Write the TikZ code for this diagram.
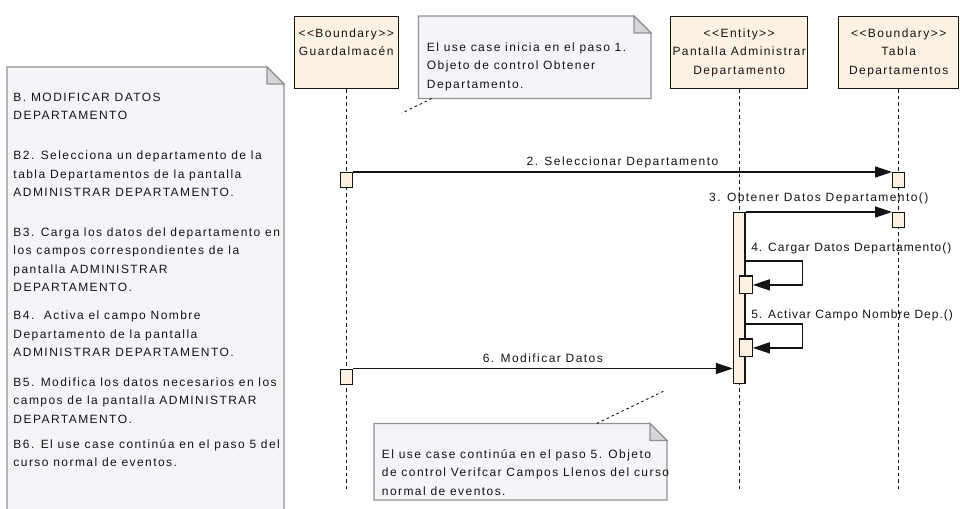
\documentclass[tikz,border=0pt]{standalone}
\usepackage{fontspec}
\setmainfont{Liberation Sans}[LetterSpace=12]
\newfontfamily\tightfont{Liberation Sans}[LetterSpace=8.5]
\usetikzlibrary{arrows.meta}

\definecolor{ink}{RGB}{20,20,20}
\definecolor{boxfill}{RGB}{252,241,226}
\definecolor{notefill}{RGB}{246,244,248}
\definecolor{notedraw}{RGB}{145,145,145}
\definecolor{foldfill}{RGB}{214,214,214}

\begin{document}
\begin{tikzpicture}[x=1bp,y=-1bp,
  every node/.style={font=\fontsize{12bp}{18.4bp}\selectfont, text=ink},
  notebody/.style={fill=notefill, draw=notedraw, line width=1.2bp},
  notefold/.style={fill=foldfill, draw=notedraw, line width=1.2bp},
  headbox/.style={draw=ink, line width=1.4bp, fill=boxfill, inner sep=0pt, anchor=north west, minimum height=72bp},
  actbox/.style={draw=ink, line width=1.3bp, fill=boxfill, inner sep=0pt},
  lifeline/.style={draw=ink, line width=1.2bp, dash pattern=on 3.5bp off 3bp},
  msg/.style={draw=ink, line width=1.4bp, -{Triangle[length=17bp,width=11bp]}},
  attach/.style={draw=ink, line width=0.9bp, dash pattern=on 2.5bp off 3bp},
  txt/.style={inner sep=0pt, anchor=north west, align=left, execute at begin node=\strut},
  ctxt/.style={inner sep=0pt, anchor=north, align=center, execute at begin node=\strut},
  lbl/.style={inner sep=0pt, anchor=base},
  lblw/.style={inner sep=0pt, anchor=base west, font=\tightfont\fontsize{12bp}{18.4bp}\selectfont},
]
\useasboundingbox (0,0) rectangle (960,509);
\fill[white] (0,0) rectangle (960,509);

% ---- left note: alternative flow B (runs off the bottom edge)
\fill[notefill] (7,67) -- (267,67) -- (284,84) -- (284,515) -- (7,515) -- cycle;
\draw[notedraw, line width=1.2bp] (7,515) -- (7,67) -- (267,67) -- (284,84) -- (284,515);
\draw[notefold] (267,67) -- (267,84) -- (284,84) -- cycle;
\node[txt] (pB)  at (13.3,92.6)  {B. MODIFICAR DATOS\\DEPARTAMENTO};
\node[txt] (pB2) at (13.3,150.9) {B2. Selecciona un departamento de la\\tabla Departamentos de la pantalla\\ADMINISTRAR DEPARTAMENTO.};
\node[txt] (pB3) at (13.3,227.6) {B3. Carga los datos del departamento en\\los campos correspondientes de la\\pantalla ADMINISTRAR\\DEPARTAMENTO.};
\node[txt] (pB4) at (13.3,310.9) {B4.\ \ Activa el campo Nombre\\Departamento de la pantalla\\ADMINISTRAR DEPARTAMENTO.};
\node[txt] (pB5) at (13.3,377.6) {B5. Modifica los datos necesarios en los\\campos de la pantalla ADMINISTRAR\\DEPARTAMENTO.};
\node[txt] (pB6) at (13.3,439.2) {B6. El use case contin\'ua en el paso 5 del\\curso normal de eventos.};

% ---- top note
\draw[notebody] (418.5,16) -- (634,16) -- (651,33) -- (651,98.5) -- (418.5,98.5) -- cycle;
\draw[notefold] (634,16) -- (634,33) -- (651,33) -- cycle;
\node[txt] (ntop) at (426.7,42.6) {El use case inicia en el paso 1.\\Objeto de control Obtener\\Departamento.};
\coordinate (ntopA) at (431.7,98.5);
\coordinate (ntopB) at (401.7,113.3);
\draw[attach] (ntopA) -- (ntopB);

% ---- lifeline heads
\node[headbox, minimum width=104bp] (g) at (293.5,16) {};
\node[headbox, minimum width=137bp] (e) at (670,16) {};
\node[headbox, minimum width=120bp] (t) at (838,16) {};
\node[ctxt] (gt) at (g.north |- 0,28.4) {<{}<Boundary>{}>\\Guardalmac\'en};
\node[ctxt] (et) at (e.north |- 0,28.4) {<{}<Entity>{}>\\Pantalla Administrar\\Departamento};
\node[ctxt] (tt) at (t.north |- 0,28.4) {<{}<Boundary>{}>\\Tabla\\Departamentos};

% ---- lifelines
\coordinate (gEnd) at (g.south |- 0,491);
\coordinate (eEnd) at (e.south |- 0,491);
\coordinate (tEnd) at (t.south |- 0,491);
\draw[lifeline] (g.south) -- (gEnd);
\draw[lifeline] (e.south) -- (eEnd);
\draw[lifeline] (t.south) -- (tEnd);

% ---- activations
\node[actbox, anchor=north, minimum width=12bp, minimum height=15bp] (ga) at (g.south |- 0,172) {};
\node[actbox, anchor=north, minimum width=12bp, minimum height=15bp] (gb) at (g.south |- 0,368.5) {};
\node[actbox, anchor=north, minimum width=12bp, minimum height=15bp] (ta) at (t.south |- 0,172) {};
\node[actbox, anchor=north, minimum width=12bp, minimum height=15bp] (tb) at (t.south |- 0,212) {};
\node[actbox, anchor=north, minimum width=11.5bp, minimum height=171bp] (ebar) at (e.south |- 0,212) {};
\node[actbox, anchor=north west, minimum width=13bp, minimum height=17.5bp] (e4) at (738.5,275.5) {};
\node[actbox, anchor=north west, minimum width=13bp, minimum height=17.5bp] (e5) at (738.5,338.5) {};

% ---- messages
\draw[msg] (ga.north east) -- node[lbl, yshift=6.1bp] (m2) {2. Seleccionar Departamento} (ta.north west);
\draw[msg] (ebar.north east) -- node[lbl, yshift=10.8bp] (m3) {3. Obtener Datos Departamento()} (tb.north west);
\draw[msg] (ebar.east |- 0,261) node[lblw, xshift=5bp, yshift=9.8bp] (m4) {4. Cargar Datos Departamento()}
  -- ++(57,0) |- (e4.east);
\draw[msg] (ebar.east |- 0,324) node[lblw, xshift=5bp, yshift=5.5bp] (m5) {5. Activar Campo Nombre Dep.()}
  -- ++(57,0) |- (e5.east);
\draw[msg] (gb.north east) -- node[lbl, yshift=6.3bp] (m6) {6. Modificar Datos} (gb.north east -| ebar.west);

% ---- bottom note
\draw[notebody] (374,423.5) -- (650,423.5) -- (667,440.5) -- (667,500) -- (374,500) -- cycle;
\draw[notefold] (650,423.5) -- (650,440.5) -- (667,440.5) -- cycle;
\node[txt] (nbot) at (381.7,449.2) {El use case contin\'ua en el paso 5. Objeto\\de control Verifcar Campos Llenos del curso\\normal de eventos.};
\coordinate (nbotA) at (596.7,423.5);
\coordinate (nbotB) at (666,390);
\draw[attach] (nbotA) -- (nbotB);
\end{tikzpicture}
\end{document}
